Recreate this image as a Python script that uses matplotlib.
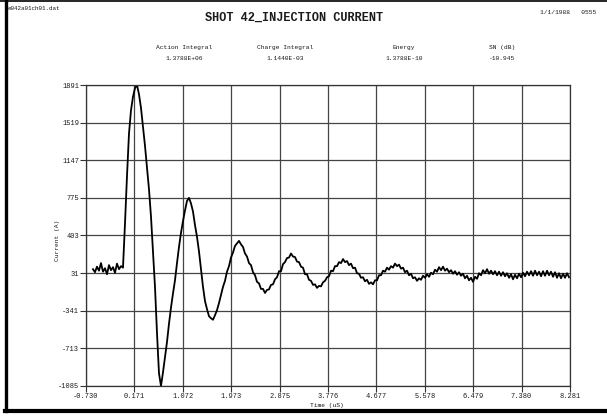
import numpy as np
import matplotlib.pyplot as plt
from matplotlib.lines import Line2D

# ------------------
# Scope record: injection current, shot 42
# ------------------
file_name = "e042a01ch01.dat"
title = "SHOT 42_INJECTION CURRENT"
stamp = "1/1/1988   0555"

stat_names = ["Action Integral", "Charge Integral", "Energy", "SN (dB)"]
stat_values = ["1.3788E+06", "1.1440E-03", "1.3788E-10", "-10.945"]

x_ticks = [-0.730, 0.171, 1.072, 1.973, 2.875, 3.776, 4.677, 5.578, 6.479, 7.380, 8.281]
x_tick_labels = ["-0.730", "0.171", "1.072", "1.973", "2.875", "3.776",
                 "4.677", "5.578", "6.479", "7.380", "8.281"]
y_ticks = [1891, 1519, 1147, 775, 403, 31, -341, -713, -1085]
y_tick_labels = ["1891", "1519", "1147", "775", "403", "31", "-341", "-713", "-1085"]

# sample clock of the digitiser (uS)
t_start = -0.600
dt = 0.03724

# current samples (A)
current = [
    70, 40, 95, 55, 130, 45, 80, 20, 110, 60, 90, 35, 125, 70, 100,
    85, 520, 990, 1410, 1640, 1775, 1860, 1891, 1800, 1665, 1480, 1290, 1080, 860, 590,
    250, -105, -560, -960, -1085, -950, -800, -650, -470, -310,
    -170, -40, 130, 290, 430, 545, 650, 745, 775, 720,
    640, 505, 390, 245, 65, -105, -245, -325, -395, -415,
    -430, -385, -335, -265, -185, -105, -45, 45, 100, 185,
    235, 300, 325, 350, 315, 290, 225, 195, 130, 110,
    40, 10, -55, -70, -125, -125, -165, -135, -130, -85,
    -80, -30, -10, 50, 50, 120, 140, 180, 185, 225,
    195, 190, 145, 140, 95, 85, 20, 20, -35, -45,
    -85, -80, -115, -95, -100, -60, -45, -10, 0, 55,
    50, 100, 100, 140, 130, 170, 140, 150, 110, 125,
    80, 85, 30, 25, -15, -10, -50, -35, -75, -60,
    -80, -40, -40, 10, 10, 55, 45, 85, 65, 100,
    85, 125, 100, 115, 75, 85, 40, 55, 10, 25,
    -20, -10, -45, -20, -35, 5, -15, 20, -5, 35,
    20, 65, 45, 90, 60, 95, 55, 75, 40, 60,
    25, 50, 15, 40, 5, 25, -20, 5, -40, -15,
    -55, -5, -25, 30, 10, 60, 30, 70, 25, 55,
    20, 50, 10, 45, 5, 40, 0, 30, -15, 20,
    -30, 15, -20, 25, -10, 35, 0, 45, 10, 50,
    5, 55, 10, 45, 0, 50, 5, 55, 10, 45,
    -5, 40, -15, 30, -20, 25, -15, 30, -10,
]

current = np.array(current, dtype=float)
t = t_start + dt * np.arange(len(current))

W, H = 607, 417
mono = "Liberation Mono"
ink = "#1a1a1a"

fig = plt.figure(figsize=(W / 100, H / 100), dpi=100)
ax = fig.add_axes([86 / W, 1 - 386 / H, (570 - 86) / W, (386 - 85) / H])

ax.plot(t, current, color="black", lw=1.3)

ax.set_xlim(x_ticks[0], x_ticks[-1])
ax.set_ylim(y_ticks[-1], y_ticks[0])
ax.set_xticks(x_ticks)
ax.set_xticklabels(x_tick_labels, family=mono, fontsize=5, color=ink)
ax.set_yticks(y_ticks)
ax.set_yticklabels(y_tick_labels, family=mono, fontsize=5, color=ink)
ax.tick_params(length=4, width=0.8, pad=1, color="#333333")
ax.grid(True, color="#444444", lw=0.9)
for s in ax.spines.values():
    s.set_color("#333333")
    s.set_linewidth(0.9)

ax.set_xlabel("Time (uS)", family=mono, fontsize=4.5, color=ink)
ax.set_ylabel("Current (A)", family=mono, fontsize=4.5, color=ink)
ax.xaxis.set_label_coords((327 - 86) / 484, -(406 - 386) / 301)
ax.yaxis.set_label_coords(-(86 - 57) / 484, (386 - 240) / 301)
ax.xaxis.label.set_verticalalignment("center")
ax.yaxis.label.set_verticalalignment("center")


def ftext(x, y, s, **kw):
    fig.text(x / W, 1 - y / H, s, family=mono, color=ink, va="center", **kw)


ftext(8, 9, file_name, fontsize=4.2, ha="left")
ftext(294, 18, title, fontsize=8.6, weight="bold", ha="center")
ftext(540, 13, stamp, fontsize=4.5, ha="left")

stat_x = [184, 285, 404, 502]
for x, name, val in zip(stat_x, stat_names, stat_values):
    ftext(x, 47, name, fontsize=4.5, ha="center")
    ftext(x, 59, val, fontsize=4.5, ha="center")

# page border
fig.add_artist(Line2D([6 / W, 6 / W], [1 - 411 / H, 1.0], transform=fig.transFigure,
                      color="black", lw=2.4))
fig.add_artist(Line2D([5 / W, 1.0], [1 - 411 / H, 1 - 411 / H], transform=fig.transFigure,
                      color="black", lw=3.0))
fig.add_artist(Line2D([0.0, 1.0], [1 - 0.8 / H, 1 - 0.8 / H], transform=fig.transFigure,
                      color="black", lw=1.2))

fig.savefig("out.png", dpi=100)
